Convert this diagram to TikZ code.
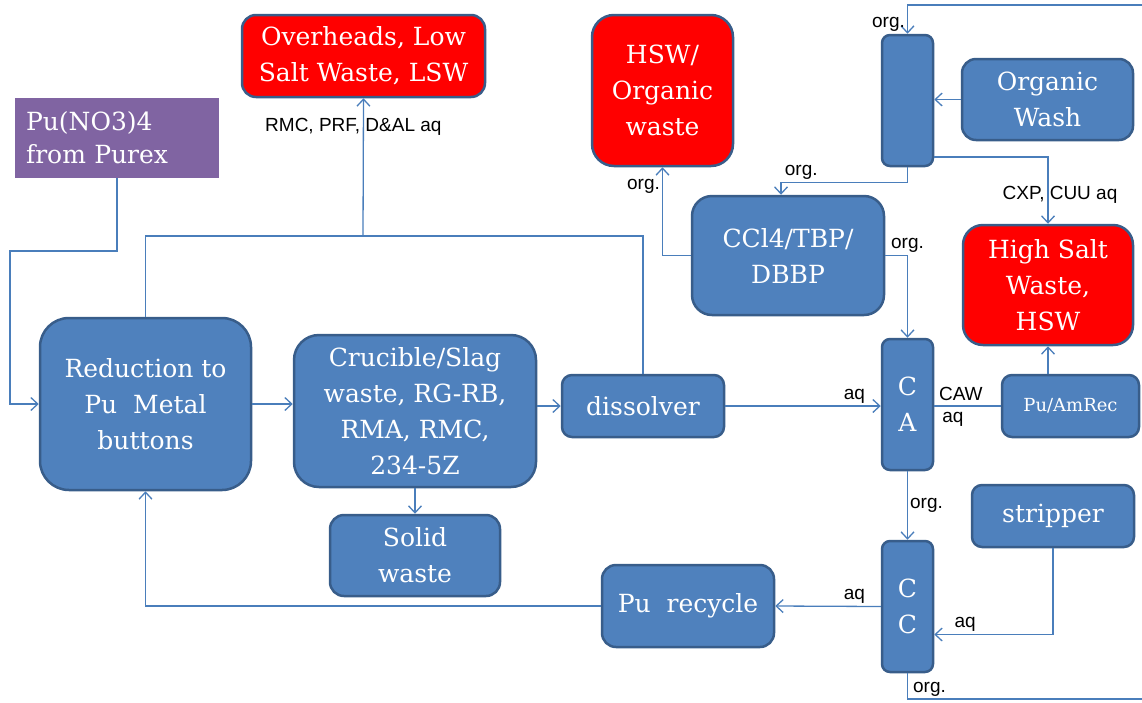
\documentclass[tikz,border=0pt]{standalone}
\usepackage{fontspec}
\setmainfont{DejaVu Serif}
\newfontfamily\lblfont{Liberation Sans}
\usetikzlibrary{arrows.meta,positioning,calc}
\definecolor{boxblue}{HTML}{4F81BD}
\definecolor{boxline}{HTML}{385D8A}
\definecolor{linkblue}{HTML}{4A7EBB}
\definecolor{purexvio}{HTML}{8064A2}
\tikzset{
  bloc/.style={draw=boxline,fill=boxblue,line width=2.5pt,rounded corners=14pt,
    text=white,align=center,inner sep=0pt,font=\fontsize{25}{36}\selectfont},
  waste/.style={bloc,fill=red},
  feed/.style={fill=purexvio,text=white,align=left,inner sep=0pt,
    font=\fontsize{25}{33}\selectfont},
  colm/.style={bloc,rounded corners=8pt,minimum width=51pt,minimum height=131pt},
  ln/.style={draw=linkblue,line width=1.3pt},
  fl/.style={ln,-{Straight Barb[length=7pt,width=13pt]}},
  lbl/.style={font=\lblfont\fontsize{19}{22}\selectfont,text=black,inner sep=2pt},
}
\begin{document}
\begin{tikzpicture}[x=1pt,y=-1pt]
  \useasboundingbox (0,0) rectangle (1142,702);
  % process boxes
  \node[waste,minimum width=243pt,minimum height=82pt] (lsw) at (363.5,56) {Overheads, Low\\Salt Waste, LSW};
  \node[feed,minimum width=204pt,minimum height=80pt,text width=182pt] (purex) at (117,138) {Pu(NO3)4\\from Purex};
  \node[waste,rounded corners=22pt,minimum width=141pt,minimum height=151pt] (hswo) at (662.5,90.5) {HSW/\\Organic\\waste};
  \node[colm] (wash) at (907.5,100.5) {};
  \node[bloc,minimum width=171pt,minimum height=81pt] (owash) at (1047.5,99.5) {Organic\\Wash};
  \node[bloc,rounded corners=20pt,minimum width=192pt,minimum height=119pt] (solv) at (788,255.5) {CCl4/TBP/\\DBBP};
  \node[waste,rounded corners=20pt,minimum width=170pt,minimum height=120pt] (hsw) at (1048,285) {High Salt\\Waste,\\HSW};
  \node[bloc,rounded corners=29pt,minimum width=211pt,minimum height=172pt] (redu) at (145.5,404) {Reduction to\\Pu~ Metal\\buttons};
  \node[bloc,rounded corners=25pt,minimum width=242pt,minimum height=152pt] (cruc) at (415,411) {Crucible/Slag\\waste, RG-RB,\\RMA, RMC,\\234-5Z};
  \node[bloc,rounded corners=10pt,minimum width=162pt,minimum height=62pt] (diss) at (643,406) {dissolver};
  \node[colm] (ca) at (907.5,404.5) {C\\A};
  \node[bloc,rounded corners=10pt,minimum width=137pt,minimum height=62pt,font=\fontsize{18}{22}\selectfont] (amrec) at (1070.5,406) {Pu/AmRec};
  \node[bloc,rounded corners=10pt,minimum width=162pt,minimum height=62pt] (strip) at (1053,516) {stripper};
  \node[bloc,minimum width=170pt,minimum height=81pt] (solid) at (415,555.5) {Solid\\waste};
  \node[bloc,minimum width=172pt,minimum height=82pt] (recy) at (688,606) {Pu~ recycle};
  \node[colm] (cc) at (907.5,606.5) {C\\C};
  % turning points
  \coordinate (feedj) at (10,251);
  \coordinate (lswj) at (363,236);
  \coordinate (orgout) at (1142,699);
  \coordinate (orgin) at (1142,5);
  % flows
  \draw[fl] (purex.south) |- (feedj) |- (redu.west);
  \draw[ln] (redu.north) |- (lswj) -| (diss.north);
  \draw[fl] (lswj) -- node[lbl,pos=0.79,xshift=-10pt]{RMC, PRF, D\&AL aq} (lsw.south);
  \draw[fl] (redu.east) -- (cruc.west |- redu.east);
  \draw[fl] (cruc.east |- diss.west) -- (diss.west);
  \draw[fl] (cruc.south) -- (solid.north);
  \draw[fl] (diss.east) -- node[lbl,above,pos=0.83]{aq} (ca.west |- diss.east);
  \draw[ln] (ca.east |- amrec.west) -- node[lbl,inner sep=1pt,above=4pt,pos=0.4]{CAW} node[lbl,inner sep=1pt,below=5pt,pos=0.28]{aq} (amrec.west);
  \draw[fl] (hsw.south |- amrec.north) -- (hsw.south);
  \draw[fl] (ca.south) -- node[lbl,right]{org.} (cc.north);
  \draw[fl] (strip.south) |- node[lbl,above,pos=0.87]{aq} ([yshift=-28pt]cc.east);
  \draw[fl] (cc.west) -- node[lbl,above,pos=0.25]{aq} (recy.east);
  \draw[fl] (recy.west) -| (redu.south);
  \draw[ln] (cc.south) |- node[lbl,pos=0.5,anchor=south west,xshift=3pt]{org.} (orgout);
  \draw[fl] (orgin) -| node[lbl,left,pos=0.83]{org.} (wash.north);
  \draw[fl] (owash.west) -- (wash.east |- owash.west);
  \draw[fl] (wash.south) -- ++(0,15) -| node[lbl,above,pos=0.42]{org.} ([xshift=-7pt]solv.north);
  \draw[fl] ([yshift=-56.5pt]wash.east) -| node[lbl,pos=0.78,xshift=12pt]{CXP, CUU aq} (hsw.north);
  \draw[fl] (solv.west) -| node[lbl,left,pos=0.89]{org.} (hswo.south);
  \draw[fl] (solv.east) -| node[lbl,above,pos=0.5]{org.} (ca.north);
\end{tikzpicture}
\end{document}
